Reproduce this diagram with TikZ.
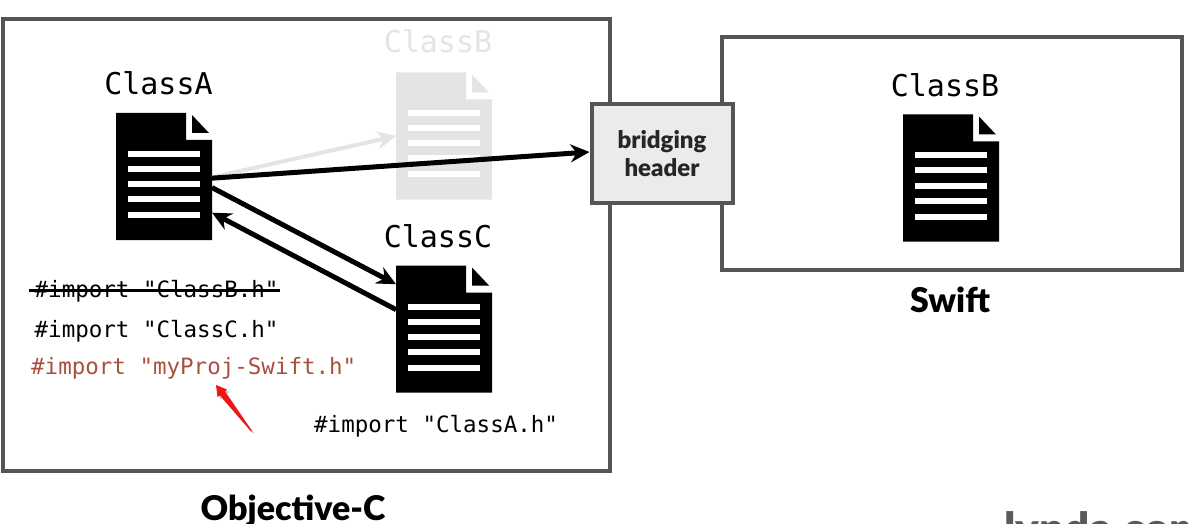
\documentclass[tikz,border=0pt]{standalone}
\usepackage{fontspec}
\setmainfont{Lato}[BoldFont={Lato Black}]
\newfontfamily\codefont{DejaVu Sans Mono}
\definecolor{boxgray}{RGB}{85,85,85}
\definecolor{fadegray}{RGB}{228,228,228}
\definecolor{bridgefill}{RGB}{235,235,235}
\definecolor{importred}{RGB}{168,80,60}
\definecolor{markred}{RGB}{240,20,20}
\definecolor{watergray}{RGB}{90,90,90}
\usetikzlibrary{arrows.meta,positioning}
\tikzset{
    langbox/.style={draw=boxgray,line width=4pt},
    bridgebox/.style={draw=boxgray,line width=4pt,fill=bridgefill,minimum width=141pt,minimum height=98pt,inner sep=0pt,align=center,font=\fontsize{24}{28.5}\selectfont\bfseries,text=black!85},
    docframe/.style={minimum width=96pt,minimum height=127pt,inner sep=0pt,outer sep=0pt},
    classlabel/.style={anchor=base,inner sep=0pt,font=\codefont\fontsize{30}{32}\selectfont},
    importline/.style={anchor=base west,inner xsep=0pt,font=\codefont\fontsize{22.5}{26}\selectfont},
    langlabel/.style={anchor=base,inner sep=0pt,font=\fontsize{34}{38}\selectfont\bfseries},
    linkarrow/.style={-{Stealth[length=19pt,width=18pt]},line width=5pt},
}
% document icon: name, centre, colour
\newcommand{\docicon}[3]{
    \node[docframe] (#1) at (#2) {};
    \begin{scope}[shift={(#1.north west)}]
        \fill[#3] (0,0) -- (70,0) -- (70,27) -- (96,27) -- (96,127) -- (0,127) -- cycle;
        \fill[#3] (76,2) -- (93,20) -- (76,20) -- cycle;
        \foreach \ly in {38,53,68,83,99}{
            \fill[white] (12,\ly) rectangle (84,\ly+6);
        }
    \end{scope}
}

\begin{document}
\begin{tikzpicture}[x=1pt,y=-1pt]
    \useasboundingbox (0,0) rectangle (1189,524);
    \clip (0,0) rectangle (1189,524);

    % Language boxes
    \draw[langbox] (2.5,19.5) rectangle (610,471);
    \draw[langbox] (721.5,37.5) rectangle (1182,270);
    \node[bridgebox] (bridge) at (662,153.5) {bridging\\header};

    % Documents
    \docicon{classA}{164,176.5}{black}
    \docicon{classB}{444,136}{fadegray}
    \docicon{classC}{444,329}{black}
    \docicon{classS}{951,178}{black}

    % Class names
    \node[classlabel] (nameA) at (158.5,95) {ClassA};
    \node[classlabel,text=fadegray] (nameB) at (438,53) {ClassB};
    \node[classlabel] (nameC) at (438,247) {ClassC};
    \node[classlabel] (nameS) at (945,97) {ClassB};

    % Arrows between the files
    \draw[linkarrow,fadegray,line width=4pt] (classA.-1) -- (classB.180);
    \draw[linkarrow] (classA.-2) -- (bridge.west |- 0,152);
    \draw[linkarrow] (classA.-13.5) -- (classC.137.5);
    \draw[linkarrow] (classC.158.4) -- (classA.-37.3);

    % Import lines
    \node[importline] (importB) at (34.5,297) {\#import "ClassB.h"};
    \node[importline] (importC) at (34.5,337) {\#import "ClassC.h"};
    \node[importline,text=importred] (importS) at (31,374) {\#import "myProj-Swift.h"};
    \node[importline] (importA) at (314,432.5) {\#import "ClassA.h"};
    \draw[line width=3pt] ([xshift=-6pt]importB.west) -- ([xshift=1pt]importB.east);

    % Hand drawn marker
    \fill[black!22] (218,387) -- (229,392) -- (227,394) -- (254,433) -- (253,433.5) -- (222,398) -- (220,399) -- cycle;
    \fill[markred] (216,385) -- (227,389.5) -- (225,391.5) -- (252,431) -- (251,431.5) -- (220,395.5) -- (217.5,397) -- cycle;

    % Language names
    \node[langlabel] (langO) at (293,520) {Objective-C};
    \node[langlabel] (langS) at (950,312) {Swift};
    \node[anchor=base west,inner sep=0pt,text=watergray,font=\fontsize{44}{48}\selectfont\bfseries] (water) at (1004,544) {lynda.com};
\end{tikzpicture}
\end{document}
